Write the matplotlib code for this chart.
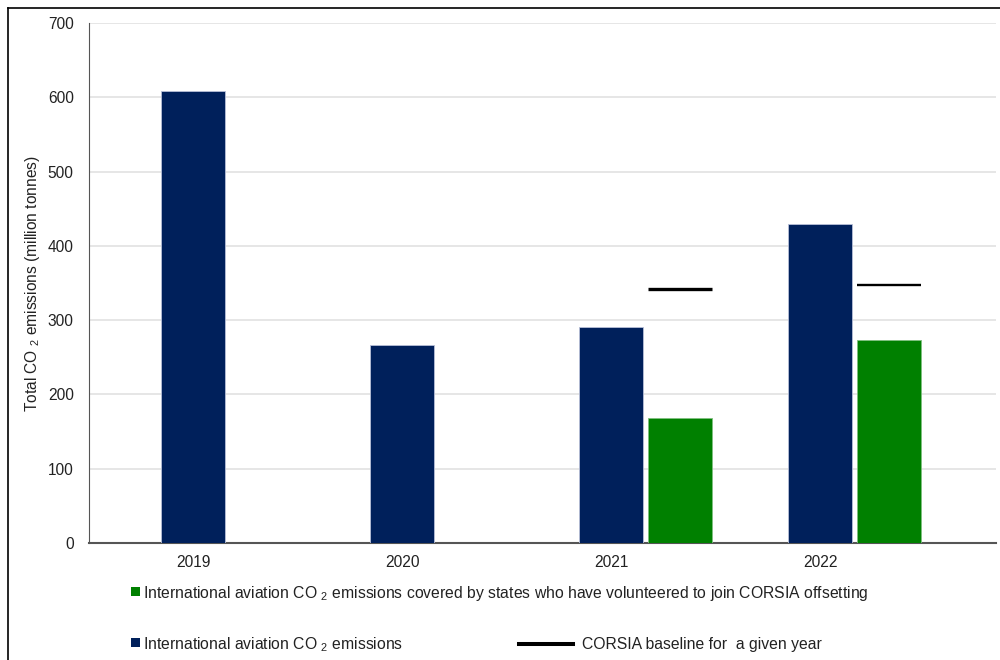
import matplotlib
matplotlib.use("Agg")
import matplotlib.pyplot as plt
from matplotlib.lines import Line2D
from matplotlib.patches import Rectangle

plt.rcParams['font.family'] = ['Liberation Sans', 'DejaVu Sans']
plt.rcParams['mathtext.fontset'] = 'custom'
plt.rcParams['mathtext.rm'] = 'Liberation Sans'

years = ['2019', '2020', '2021', '2022']
total_emissions = [608, 266, 291, 429]
covered_years = ['2021', '2022']
covered_emissions = [168, 273]
baseline = [342, 348]

label_total = 'International aviation CO $_2$ emissions'
label_covered = 'International aviation CO $_2$ emissions covered by states who have volunteered to join CORSIA offsetting'
label_baseline = 'CORSIA baseline for  a given year'

navy = '#00205b'
green = '#008000'
W, H = 1000, 660

fig = plt.figure(figsize=(10, 6.6), dpi=100)
ax = fig.add_axes([0.089, 0.1773, 0.907, 0.7877])

xs = list(range(len(years)))
width = 0.306
offset = 0.33
ax.bar(xs, total_emissions, width=width, color=navy, edgecolor='#b8c0d8', linewidth=0.6, zorder=3)

cx = [years.index(y) + offset for y in covered_years]
ax.bar(cx, covered_emissions, width=width, color=green, edgecolor='#7fc07f', linewidth=0.6, zorder=3)

lws = [2.4, 1.7]
for x, b, lw in zip(cx, baseline, lws):
    ax.hlines(b, x - width / 2, x + width / 2, color='black', linewidth=lw, zorder=4)

ax.set_xlim(-0.497, 3.84)
ax.set_ylim(0, 700)
ax.set_yticks(range(0, 701, 100))
ax.set_xticks(xs)
ax.set_xticklabels(years)
ax.tick_params(axis='both', length=0, labelsize=11.2, colors='#222222')
ax.tick_params(axis='y', pad=11)
ax.tick_params(axis='x', pad=9)
ax.grid(axis='y', color='#e2e2e2', linewidth=1.2, zorder=0)
ax.set_axisbelow(True)
for s in ['top', 'right']:
    ax.spines[s].set_visible(False)
ax.spines['left'].set_color('#555555')
ax.spines['bottom'].set_color('#555555')
ax.spines['bottom'].set_linewidth(1.5)

fig.text(33 / W, 1 - 284 / H, 'Total CO $_2$ emissions (million tonnes)', rotation=90,
         ha='center', va='center', fontsize=11.2, color='#222222')

# legend, placed by hand
def fx(px):
    return px / W

def fy(py):
    return 1 - py / H

fs = 11.3
fig.add_artist(Rectangle((fx(131), fy(596)), 9 / W, 9 / H, facecolor=green, edgecolor='none'))
fig.text(fx(143), fy(598), label_covered, ha='left', va='baseline', fontsize=fs, color='#222222')

fig.add_artist(Rectangle((fx(131), fy(647)), 9 / W, 9 / H, facecolor=navy, edgecolor='none'))
fig.text(fx(143), fy(649), label_total, ha='left', va='baseline', fontsize=fs, color='#222222')

fig.add_artist(Line2D([fx(519), fx(573)], [fy(644), fy(644)], color='black', linewidth=2.9))
fig.text(fx(582), fy(649), label_baseline, ha='left', va='baseline', fontsize=fs, color='#222222')

# outer frame (left and top edges visible)
fig.add_artist(Line2D([0.008, 0.008], [0.0, 0.988], color='black', linewidth=1.2))
fig.add_artist(Line2D([0.008, 1.0], [0.988, 0.988], color='black', linewidth=1.2))

fig.savefig('out.png', dpi=100)
